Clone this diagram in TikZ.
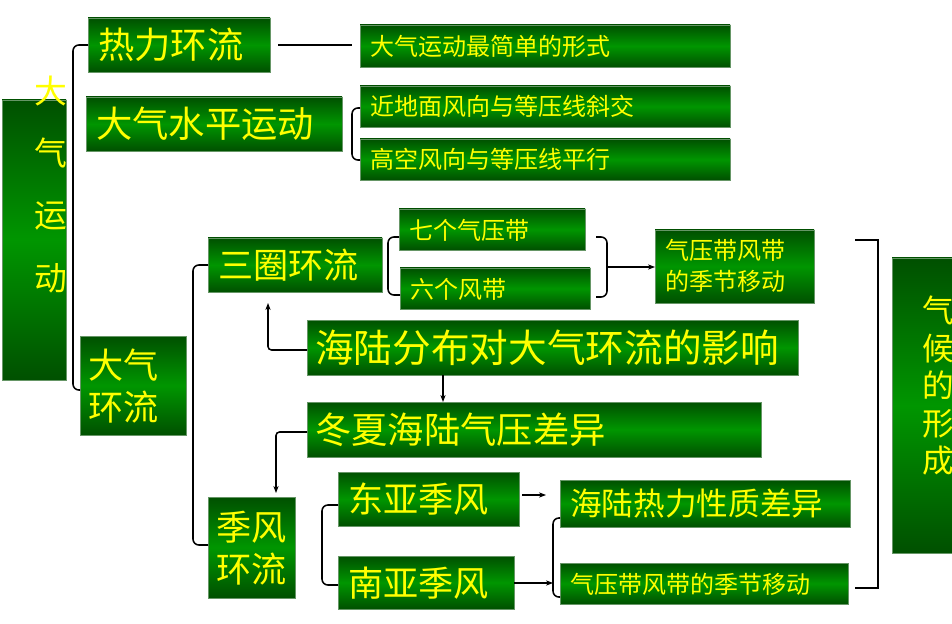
\documentclass[tikz,border=0pt]{standalone}
\usepackage{fontspec}
\newfontfamily\cjk{Noto Sans CJK SC}
\usetikzlibrary{arrows.meta}
\definecolor{gdark}{RGB}{0,80,0}
\definecolor{gmid}{RGB}{0,150,0}
\definecolor{tyel}{RGB}{255,255,0}

\tikzset{
  box/.style={top color=gdark, bottom color=gdark, middle color=gmid, draw=gdark!60!white, thin},
  lbl/.style={text=tyel, font=\cjk, anchor=west, inner sep=0pt},
  link/.style={draw=black, line width=1.3pt, rounded corners=5pt},
  arr/.style={line width=1.3pt, -{Stealth[length=6pt]}},
}

\begin{document}
\begin{tikzpicture}[x=0.03cm, y=-0.03cm]
\useasboundingbox (0,0) rectangle (952,624);
% boxes
\path[box] (2,100) rectangle (66,380);
\path[box] (88,18) rectangle (270,72);
\path[box] (86,97) rectangle (342,151);
\path[box] (360,25) rectangle (730,67);
\path[box] (360,86) rectangle (730,127);
\path[box] (360,139) rectangle (730,180);
\path[box] (208,238) rectangle (382,292);
\path[box] (399,209) rectangle (585,250);
\path[box] (400,268) rectangle (590,309);
\path[box] (655,230) rectangle (814,303);
\path[box] (307,320) rectangle (798,375);
\path[box] (307,402) rectangle (761,457);
\path[box] (80,336) rectangle (186,435);
\path[box] (208,497) rectangle (295,598);
\path[box] (338,472) rectangle (519,526);
\path[box] (338,556) rectangle (514,609);
\path[box] (560,480) rectangle (850,527);
\path[box] (560,563) rectangle (848,604);
\path[box] (892,258) rectangle (952,553);
% texts
\node[lbl, anchor=north, align=center, font=\cjk\fontsize{28}{53}\selectfont] (dqyd) at (51,76) {大\\气\\运\\动};
\node[lbl, font=\cjk\fontsize{31}{30}\selectfont] (rlhl) at (98,45) {热力环流};
\node[lbl, font=\cjk\fontsize{31}{30}\selectfont] (spyd) at (96,124) {大气水平运动};
\node[lbl, font=\cjk\fontsize{20.5}{20}\selectfont] (zjd) at (370,46) {大气运动最简单的形式};
\node[lbl, font=\cjk\fontsize{20.5}{20}\selectfont] (jdm) at (370,106) {近地面风向与等压线斜交};
\node[lbl, font=\cjk\fontsize{20.5}{20}\selectfont] (gk) at (370,159) {高空风向与等压线平行};
\node[lbl, font=\cjk\fontsize{30}{30}\selectfont] (sqhl) at (218,265) {三圈环流};
\node[lbl, font=\cjk\fontsize{20.5}{20}\selectfont] (qyd) at (409,230) {七个气压带};
\node[lbl, font=\cjk\fontsize{20.5}{20}\selectfont] (fd) at (410,289) {六个风带};
\node[lbl, align=left, font=\cjk\fontsize{20.5}{26}\selectfont] (jjyd) at (665,266) {气压带风带\\的季节移动};
\node[lbl, font=\cjk\fontsize{33}{30}\selectfont] (hlfb) at (315,348) {海陆分布对大气环流的影响};
\node[lbl, font=\cjk\fontsize{31}{30}\selectfont] (dxcy) at (315,430) {冬夏海陆气压差异};
\node[lbl, align=left, font=\cjk\fontsize{30}{36}\selectfont] (dqhl) at (88,386) {大气\\环流};
\node[lbl, align=left, font=\cjk\fontsize{30}{36}\selectfont] (jfhl) at (216,548) {季风\\环流};
\node[lbl, font=\cjk\fontsize{30}{30}\selectfont] (dyjf) at (348,499) {东亚季风};
\node[lbl, font=\cjk\fontsize{30}{30}\selectfont] (nyjf) at (348,583) {南亚季风};
\node[lbl, font=\cjk\fontsize{27}{30}\selectfont] (rlxz) at (570,504) {海陆热力性质差异};
\node[lbl, font=\cjk\fontsize{20.5}{20}\selectfont] (jjyd2) at (570,584) {气压带风带的季节移动};
\node[lbl, anchor=north, align=center, font=\cjk\fontsize{27}{32}\selectfont] (qhxc) at (938,296) {气\\候\\的\\形\\成};
% connectors
\draw[link] (88,45) -- (73,45) -- (73,390) -- (80,390);
\draw[line width=1.3pt] (278,45) -- (352,45);
\draw[link] (360,108) -- (352,108) -- (352,160) -- (360,160);
\draw[link] (208,265) -- (193,265) -- (193,545) -- (208,545);
\draw[link] (399,237) -- (388,237) -- (388,295) -- (400,295);
\draw[link] (596,237) -- (607,237) -- (607,297) -- (596,297);
\draw[arr] (607,267) -- (655,267);
\draw[arr, rounded corners=3pt] (307,350) -- (268,350) -- (268,303);
\draw[arr] (443,375) -- (443,402);
\draw[arr, rounded corners=3pt] (307,432) -- (276,432) -- (276,493);
\draw[link] (338,505) -- (322,505) -- (322,585) -- (338,585);
\draw[arr] (522,495) -- (546,495);
\draw[arr] (514,583) -- (553,583);
\draw[link] (560,518) -- (553,518) -- (553,597) -- (560,597);
\draw[line width=1.3pt] (855,240) -- (878,240) -- (878,588) -- (855,588);
\end{tikzpicture}
\end{document}
